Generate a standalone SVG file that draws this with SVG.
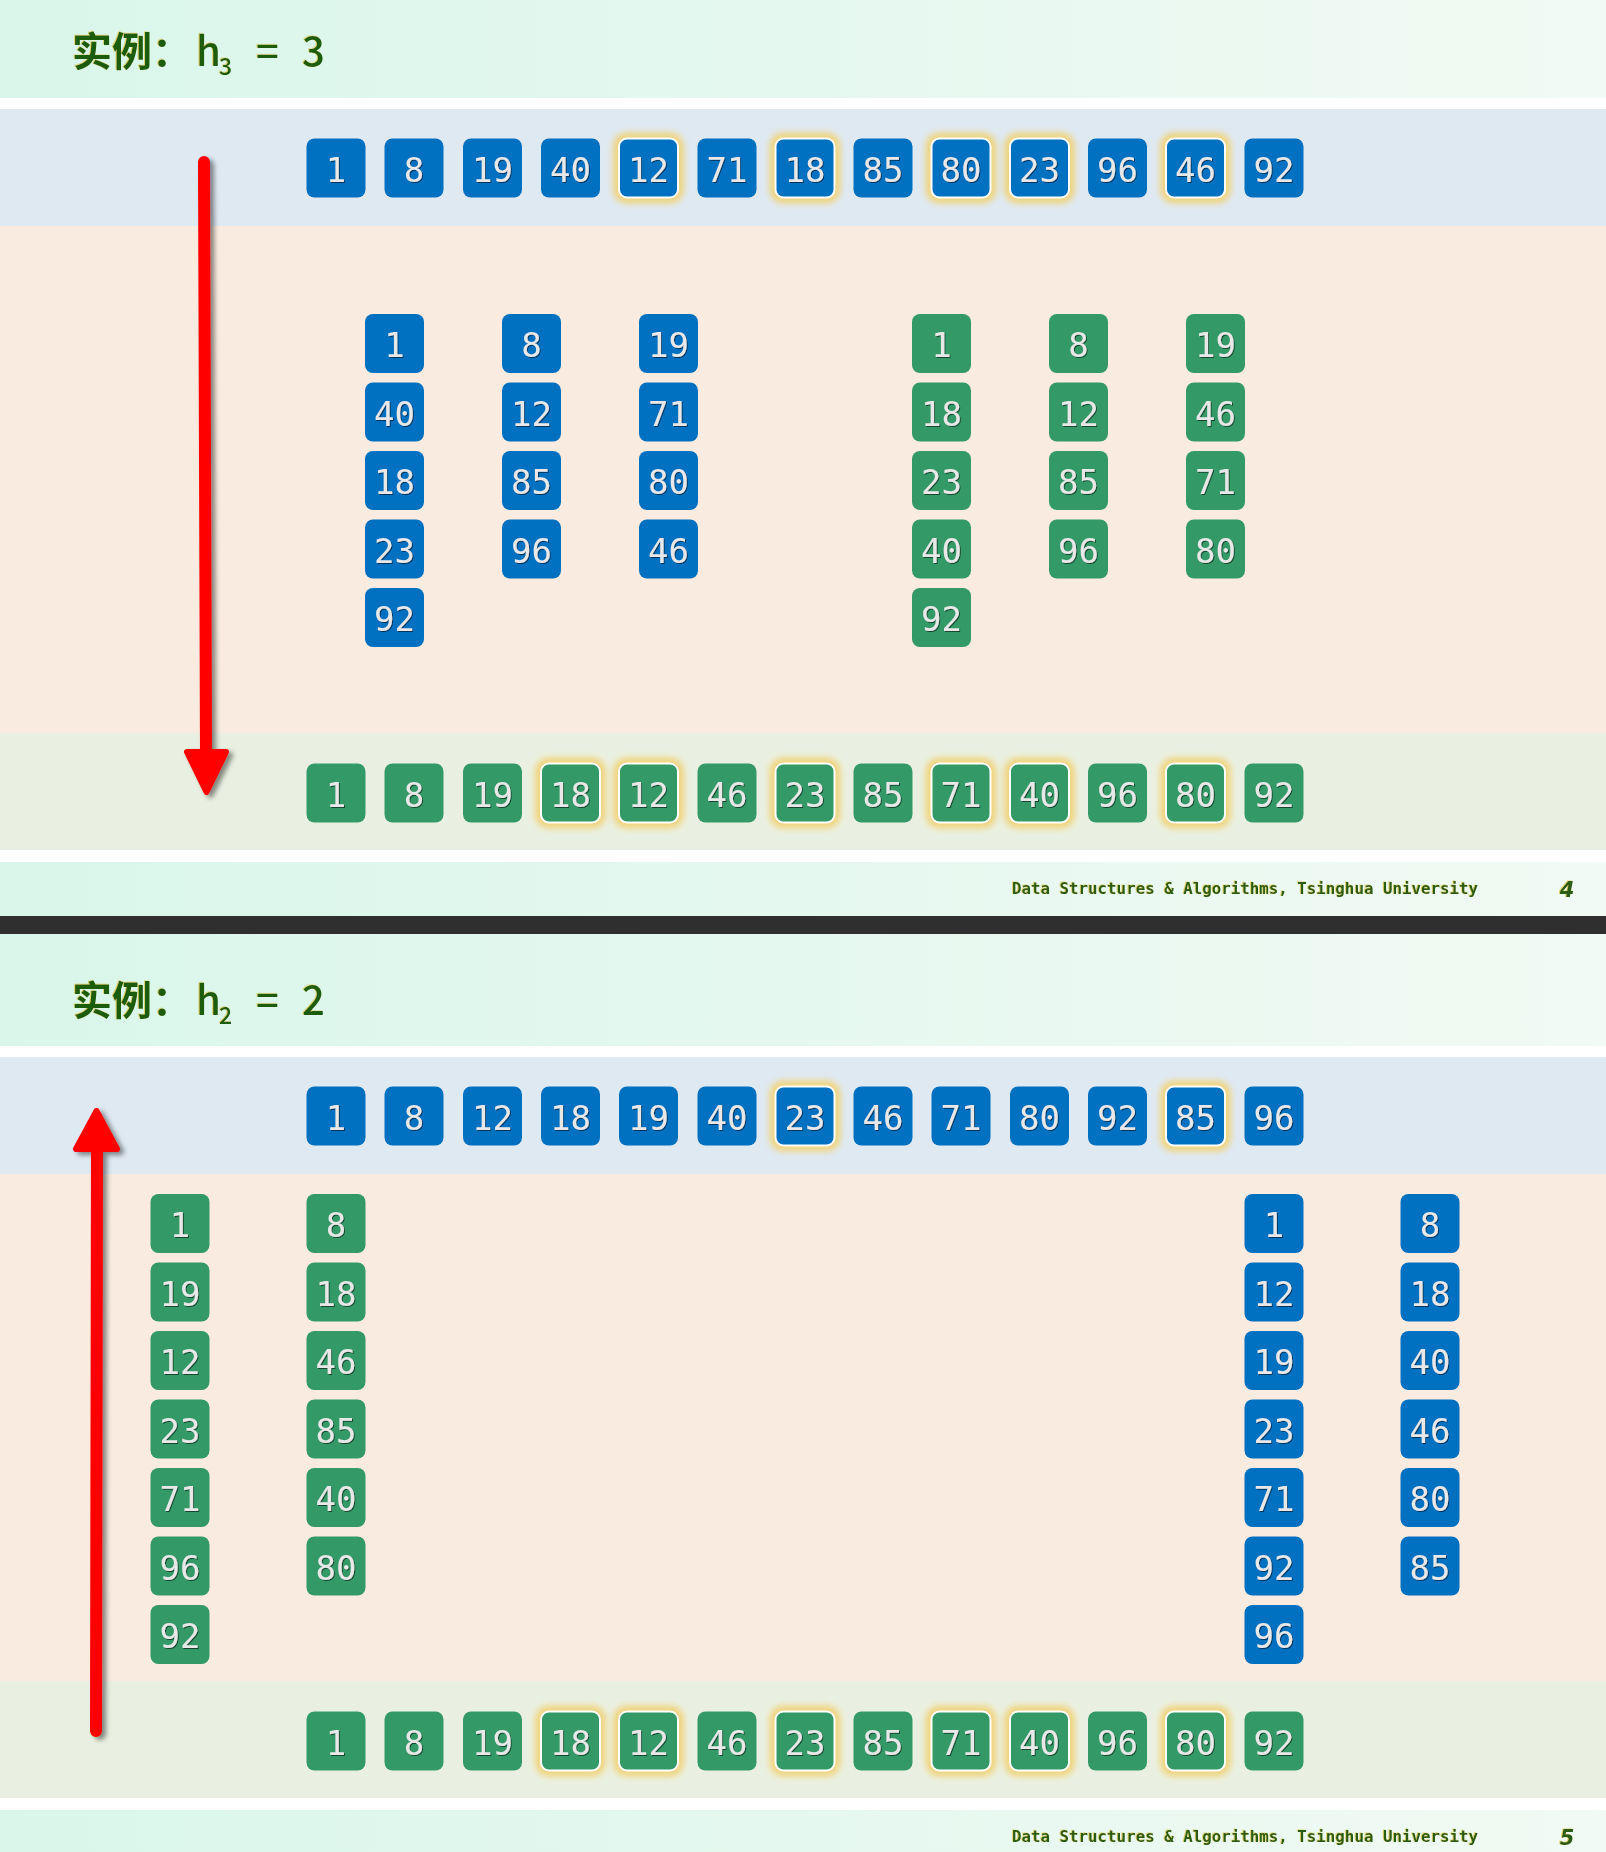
<svg xmlns="http://www.w3.org/2000/svg" width="1606" height="1852" viewBox="0 0 1606 1852">
<defs>
<linearGradient id="mint" x1="0" y1="0" x2="1" y2="0">
<stop offset="0" stop-color="#D9F6EA"/><stop offset="1" stop-color="#F1FAF4"/>
</linearGradient>
<filter id="glowf" x="-40%" y="-40%" width="180%" height="180%"><feGaussianBlur stdDeviation="3"/></filter>
<filter id="ts" x="-20%" y="-20%" width="140%" height="140%"><feDropShadow dx="1" dy="1" stdDeviation="0.7" flood-color="#000" flood-opacity="0.55"/></filter>
<filter id="ash" x="-50%" y="-10%" width="200%" height="120%"><feDropShadow dx="4" dy="3" stdDeviation="2.5" flood-color="#000" flood-opacity="0.45"/></filter>
<filter id="tsh" x="-10%" y="-10%" width="120%" height="130%"><feDropShadow dx="-1" dy="-0.5" stdDeviation="0.4" flood-color="#D8C84A" flood-opacity="0.8"/></filter>
<style>
.bb{fill:#0070C0}
.gg{fill:#339966}
.glow{fill:none;stroke:#F0D47E;stroke-width:12;filter:url(#glowf)}
.hi{stroke:#FFFFFF;stroke-width:2}
.n{font-family:"DejaVu Sans Mono","Liberation Mono",monospace;font-size:34px;fill:#E8E8E8;text-anchor:middle;filter:url(#ts)}
.title{font-family:"Noto Sans CJK SC","Noto Sans",sans-serif;font-size:40px;font-weight:500;fill:#1F5C0E;filter:url(#tsh)}
.foot{font-family:"DejaVu Sans Mono","Liberation Mono",monospace;font-size:15.8px;font-weight:bold;fill:#2A5C12;filter:url(#tsh)}
.pg{font-family:"DejaVu Sans","Liberation Sans",sans-serif;font-size:21px;font-weight:bold;font-style:italic;fill:#2A5C12;text-anchor:middle;filter:url(#tsh)}
.arr{stroke:#FF0000;fill:#FF0000;stroke-linecap:round;stroke-linejoin:round}
</style>
</defs>

<!-- backgrounds -->
<rect x="0" y="0" width="1606" height="1852" fill="#FFFFFF"/>
<rect x="0" y="0" width="1606" height="98" fill="url(#mint)"/>
<rect x="0" y="109" width="1606" height="117" fill="#DFE9F2"/>
<rect x="0" y="226" width="1606" height="507" fill="#F9EBDF"/>
<rect x="0" y="733" width="1606" height="117" fill="#EAF0E1"/>
<rect x="0" y="862" width="1606" height="54" fill="url(#mint)"/>
<rect x="0" y="916" width="1606" height="18" fill="#2F2F2F"/>
<rect x="0" y="934" width="1606" height="112" fill="url(#mint)"/>
<rect x="0" y="1057" width="1606" height="117" fill="#DFE9F2"/>
<rect x="0" y="1174" width="1606" height="507" fill="#F9EBDF"/>
<rect x="0" y="1681" width="1606" height="117" fill="#EAF0E1"/>
<rect x="0" y="1810" width="1606" height="42" fill="url(#mint)"/>

<!-- titles and footers -->
<text class="title" x="72" y="66"><tspan font-weight="bold">实例：</tspan><tspan x="196">h</tspan><tspan font-size="23" x="219" dy="9">3</tspan><tspan x="256" dy="-9">=</tspan><tspan x="302">3</tspan></text>
<text class="title" x="72" y="1015"><tspan font-weight="bold">实例：</tspan><tspan x="196">h</tspan><tspan font-size="23" x="219" dy="9">2</tspan><tspan x="256" dy="-9">=</tspan><tspan x="302">2</tspan></text>
<text class="foot" x="1012" y="894">Data Structures &amp; Algorithms, Tsinghua University</text>
<text class="pg" x="1567" y="897">4</text>
<text class="foot" x="1012" y="1842">Data Structures &amp; Algorithms, Tsinghua University</text>
<text class="pg" x="1567" y="1845">5</text>

<!-- connectors (arrows) -->
<g id="connectors">
<g filter="url(#ash)">
<line class="arr" x1="204" y1="162" x2="206" y2="752" stroke-width="12"/>
<polygon class="arr" points="187,752 226,752 206.5,792" stroke-width="6"/>
</g>
<g filter="url(#ash)">
<line class="arr" x1="96" y1="1731" x2="97" y2="1148" stroke-width="12"/>
<polygon class="arr" points="76,1149 117,1149 96.5,1111" stroke-width="6"/>
</g>
</g>

<!-- slide 1: top row -->
<g id="s1t0" transform="translate(306.5,138.5)"><rect class="bb" width="59" height="59" rx="8"/><text class="n" x="29.5" y="43">1</text></g>
<g id="s1t1" transform="translate(384.5,138.5)"><rect class="bb" width="59" height="59" rx="8"/><text class="n" x="29.5" y="43">8</text></g>
<g id="s1t2" transform="translate(463,138.5)"><rect class="bb" width="59" height="59" rx="8"/><text class="n" x="29.5" y="43">19</text></g>
<g id="s1t3" transform="translate(541,138.5)"><rect class="bb" width="59" height="59" rx="8"/><text class="n" x="29.5" y="43">40</text></g>
<g id="s1t4" transform="translate(619,138.5)"><rect class="glow" width="59" height="59" rx="8"/><rect class="bb hi" width="59" height="59" rx="8"/><text class="n" x="29.5" y="43">12</text></g>
<g id="s1t5" transform="translate(697.5,138.5)"><rect class="bb" width="59" height="59" rx="8"/><text class="n" x="29.5" y="43">71</text></g>
<g id="s1t6" transform="translate(775.5,138.5)"><rect class="glow" width="59" height="59" rx="8"/><rect class="bb hi" width="59" height="59" rx="8"/><text class="n" x="29.5" y="43">18</text></g>
<g id="s1t7" transform="translate(853.5,138.5)"><rect class="bb" width="59" height="59" rx="8"/><text class="n" x="29.5" y="43">85</text></g>
<g id="s1t8" transform="translate(931.5,138.5)"><rect class="glow" width="59" height="59" rx="8"/><rect class="bb hi" width="59" height="59" rx="8"/><text class="n" x="29.5" y="43">80</text></g>
<g id="s1t9" transform="translate(1010,138.5)"><rect class="glow" width="59" height="59" rx="8"/><rect class="bb hi" width="59" height="59" rx="8"/><text class="n" x="29.5" y="43">23</text></g>
<g id="s1t10" transform="translate(1088,138.5)"><rect class="bb" width="59" height="59" rx="8"/><text class="n" x="29.5" y="43">96</text></g>
<g id="s1t11" transform="translate(1166,138.5)"><rect class="glow" width="59" height="59" rx="8"/><rect class="bb hi" width="59" height="59" rx="8"/><text class="n" x="29.5" y="43">46</text></g>
<g id="s1t12" transform="translate(1244.5,138.5)"><rect class="bb" width="59" height="59" rx="8"/><text class="n" x="29.5" y="43">92</text></g>

<!-- slide 1: blue columns -->
<g id="s1b0_0" transform="translate(365,314)"><rect class="bb" width="59" height="59" rx="8"/><text class="n" x="29.5" y="43">1</text></g>
<g id="s1b0_1" transform="translate(365,382.5)"><rect class="bb" width="59" height="59" rx="8"/><text class="n" x="29.5" y="43">40</text></g>
<g id="s1b0_2" transform="translate(365,451)"><rect class="bb" width="59" height="59" rx="8"/><text class="n" x="29.5" y="43">18</text></g>
<g id="s1b0_3" transform="translate(365,519.5)"><rect class="bb" width="59" height="59" rx="8"/><text class="n" x="29.5" y="43">23</text></g>
<g id="s1b0_4" transform="translate(365,588)"><rect class="bb" width="59" height="59" rx="8"/><text class="n" x="29.5" y="43">92</text></g>
<g id="s1b1_0" transform="translate(502,314)"><rect class="bb" width="59" height="59" rx="8"/><text class="n" x="29.5" y="43">8</text></g>
<g id="s1b1_1" transform="translate(502,382.5)"><rect class="bb" width="59" height="59" rx="8"/><text class="n" x="29.5" y="43">12</text></g>
<g id="s1b1_2" transform="translate(502,451)"><rect class="bb" width="59" height="59" rx="8"/><text class="n" x="29.5" y="43">85</text></g>
<g id="s1b1_3" transform="translate(502,519.5)"><rect class="bb" width="59" height="59" rx="8"/><text class="n" x="29.5" y="43">96</text></g>
<g id="s1b2_0" transform="translate(639,314)"><rect class="bb" width="59" height="59" rx="8"/><text class="n" x="29.5" y="43">19</text></g>
<g id="s1b2_1" transform="translate(639,382.5)"><rect class="bb" width="59" height="59" rx="8"/><text class="n" x="29.5" y="43">71</text></g>
<g id="s1b2_2" transform="translate(639,451)"><rect class="bb" width="59" height="59" rx="8"/><text class="n" x="29.5" y="43">80</text></g>
<g id="s1b2_3" transform="translate(639,519.5)"><rect class="bb" width="59" height="59" rx="8"/><text class="n" x="29.5" y="43">46</text></g>

<!-- slide 1: green columns -->
<g id="s1g0_0" transform="translate(912,314)"><rect class="gg" width="59" height="59" rx="8"/><text class="n" x="29.5" y="43">1</text></g>
<g id="s1g0_1" transform="translate(912,382.5)"><rect class="gg" width="59" height="59" rx="8"/><text class="n" x="29.5" y="43">18</text></g>
<g id="s1g0_2" transform="translate(912,451)"><rect class="gg" width="59" height="59" rx="8"/><text class="n" x="29.5" y="43">23</text></g>
<g id="s1g0_3" transform="translate(912,519.5)"><rect class="gg" width="59" height="59" rx="8"/><text class="n" x="29.5" y="43">40</text></g>
<g id="s1g0_4" transform="translate(912,588)"><rect class="gg" width="59" height="59" rx="8"/><text class="n" x="29.5" y="43">92</text></g>
<g id="s1g1_0" transform="translate(1049,314)"><rect class="gg" width="59" height="59" rx="8"/><text class="n" x="29.5" y="43">8</text></g>
<g id="s1g1_1" transform="translate(1049,382.5)"><rect class="gg" width="59" height="59" rx="8"/><text class="n" x="29.5" y="43">12</text></g>
<g id="s1g1_2" transform="translate(1049,451)"><rect class="gg" width="59" height="59" rx="8"/><text class="n" x="29.5" y="43">85</text></g>
<g id="s1g1_3" transform="translate(1049,519.5)"><rect class="gg" width="59" height="59" rx="8"/><text class="n" x="29.5" y="43">96</text></g>
<g id="s1g2_0" transform="translate(1186,314)"><rect class="gg" width="59" height="59" rx="8"/><text class="n" x="29.5" y="43">19</text></g>
<g id="s1g2_1" transform="translate(1186,382.5)"><rect class="gg" width="59" height="59" rx="8"/><text class="n" x="29.5" y="43">46</text></g>
<g id="s1g2_2" transform="translate(1186,451)"><rect class="gg" width="59" height="59" rx="8"/><text class="n" x="29.5" y="43">71</text></g>
<g id="s1g2_3" transform="translate(1186,519.5)"><rect class="gg" width="59" height="59" rx="8"/><text class="n" x="29.5" y="43">80</text></g>

<!-- slide 1: bottom row -->
<g id="s1r0" transform="translate(306.5,763.5)"><rect class="gg" width="59" height="59" rx="8"/><text class="n" x="29.5" y="43">1</text></g>
<g id="s1r1" transform="translate(384.5,763.5)"><rect class="gg" width="59" height="59" rx="8"/><text class="n" x="29.5" y="43">8</text></g>
<g id="s1r2" transform="translate(463,763.5)"><rect class="gg" width="59" height="59" rx="8"/><text class="n" x="29.5" y="43">19</text></g>
<g id="s1r3" transform="translate(541,763.5)"><rect class="glow" width="59" height="59" rx="8"/><rect class="gg hi" width="59" height="59" rx="8"/><text class="n" x="29.5" y="43">18</text></g>
<g id="s1r4" transform="translate(619,763.5)"><rect class="glow" width="59" height="59" rx="8"/><rect class="gg hi" width="59" height="59" rx="8"/><text class="n" x="29.5" y="43">12</text></g>
<g id="s1r5" transform="translate(697.5,763.5)"><rect class="gg" width="59" height="59" rx="8"/><text class="n" x="29.5" y="43">46</text></g>
<g id="s1r6" transform="translate(775.5,763.5)"><rect class="glow" width="59" height="59" rx="8"/><rect class="gg hi" width="59" height="59" rx="8"/><text class="n" x="29.5" y="43">23</text></g>
<g id="s1r7" transform="translate(853.5,763.5)"><rect class="gg" width="59" height="59" rx="8"/><text class="n" x="29.5" y="43">85</text></g>
<g id="s1r8" transform="translate(931.5,763.5)"><rect class="glow" width="59" height="59" rx="8"/><rect class="gg hi" width="59" height="59" rx="8"/><text class="n" x="29.5" y="43">71</text></g>
<g id="s1r9" transform="translate(1010,763.5)"><rect class="glow" width="59" height="59" rx="8"/><rect class="gg hi" width="59" height="59" rx="8"/><text class="n" x="29.5" y="43">40</text></g>
<g id="s1r10" transform="translate(1088,763.5)"><rect class="gg" width="59" height="59" rx="8"/><text class="n" x="29.5" y="43">96</text></g>
<g id="s1r11" transform="translate(1166,763.5)"><rect class="glow" width="59" height="59" rx="8"/><rect class="gg hi" width="59" height="59" rx="8"/><text class="n" x="29.5" y="43">80</text></g>
<g id="s1r12" transform="translate(1244.5,763.5)"><rect class="gg" width="59" height="59" rx="8"/><text class="n" x="29.5" y="43">92</text></g>

<!-- slide 2: top row -->
<g id="s2t0" transform="translate(306.5,1086.5)"><rect class="bb" width="59" height="59" rx="8"/><text class="n" x="29.5" y="43">1</text></g>
<g id="s2t1" transform="translate(384.5,1086.5)"><rect class="bb" width="59" height="59" rx="8"/><text class="n" x="29.5" y="43">8</text></g>
<g id="s2t2" transform="translate(463,1086.5)"><rect class="bb" width="59" height="59" rx="8"/><text class="n" x="29.5" y="43">12</text></g>
<g id="s2t3" transform="translate(541,1086.5)"><rect class="bb" width="59" height="59" rx="8"/><text class="n" x="29.5" y="43">18</text></g>
<g id="s2t4" transform="translate(619,1086.5)"><rect class="bb" width="59" height="59" rx="8"/><text class="n" x="29.5" y="43">19</text></g>
<g id="s2t5" transform="translate(697.5,1086.5)"><rect class="bb" width="59" height="59" rx="8"/><text class="n" x="29.5" y="43">40</text></g>
<g id="s2t6" transform="translate(775.5,1086.5)"><rect class="glow" width="59" height="59" rx="8"/><rect class="bb hi" width="59" height="59" rx="8"/><text class="n" x="29.5" y="43">23</text></g>
<g id="s2t7" transform="translate(853.5,1086.5)"><rect class="bb" width="59" height="59" rx="8"/><text class="n" x="29.5" y="43">46</text></g>
<g id="s2t8" transform="translate(931.5,1086.5)"><rect class="bb" width="59" height="59" rx="8"/><text class="n" x="29.5" y="43">71</text></g>
<g id="s2t9" transform="translate(1010,1086.5)"><rect class="bb" width="59" height="59" rx="8"/><text class="n" x="29.5" y="43">80</text></g>
<g id="s2t10" transform="translate(1088,1086.5)"><rect class="bb" width="59" height="59" rx="8"/><text class="n" x="29.5" y="43">92</text></g>
<g id="s2t11" transform="translate(1166,1086.5)"><rect class="glow" width="59" height="59" rx="8"/><rect class="bb hi" width="59" height="59" rx="8"/><text class="n" x="29.5" y="43">85</text></g>
<g id="s2t12" transform="translate(1244.5,1086.5)"><rect class="bb" width="59" height="59" rx="8"/><text class="n" x="29.5" y="43">96</text></g>

<!-- slide 2: green columns -->
<g id="s2g0_0" transform="translate(150.5,1194)"><rect class="gg" width="59" height="59" rx="8"/><text class="n" x="29.5" y="43">1</text></g>
<g id="s2g0_1" transform="translate(150.5,1262.5)"><rect class="gg" width="59" height="59" rx="8"/><text class="n" x="29.5" y="43">19</text></g>
<g id="s2g0_2" transform="translate(150.5,1331)"><rect class="gg" width="59" height="59" rx="8"/><text class="n" x="29.5" y="43">12</text></g>
<g id="s2g0_3" transform="translate(150.5,1399.5)"><rect class="gg" width="59" height="59" rx="8"/><text class="n" x="29.5" y="43">23</text></g>
<g id="s2g0_4" transform="translate(150.5,1468)"><rect class="gg" width="59" height="59" rx="8"/><text class="n" x="29.5" y="43">71</text></g>
<g id="s2g0_5" transform="translate(150.5,1536.5)"><rect class="gg" width="59" height="59" rx="8"/><text class="n" x="29.5" y="43">96</text></g>
<g id="s2g0_6" transform="translate(150.5,1605)"><rect class="gg" width="59" height="59" rx="8"/><text class="n" x="29.5" y="43">92</text></g>
<g id="s2g1_0" transform="translate(306.5,1194)"><rect class="gg" width="59" height="59" rx="8"/><text class="n" x="29.5" y="43">8</text></g>
<g id="s2g1_1" transform="translate(306.5,1262.5)"><rect class="gg" width="59" height="59" rx="8"/><text class="n" x="29.5" y="43">18</text></g>
<g id="s2g1_2" transform="translate(306.5,1331)"><rect class="gg" width="59" height="59" rx="8"/><text class="n" x="29.5" y="43">46</text></g>
<g id="s2g1_3" transform="translate(306.5,1399.5)"><rect class="gg" width="59" height="59" rx="8"/><text class="n" x="29.5" y="43">85</text></g>
<g id="s2g1_4" transform="translate(306.5,1468)"><rect class="gg" width="59" height="59" rx="8"/><text class="n" x="29.5" y="43">40</text></g>
<g id="s2g1_5" transform="translate(306.5,1536.5)"><rect class="gg" width="59" height="59" rx="8"/><text class="n" x="29.5" y="43">80</text></g>

<!-- slide 2: blue columns -->
<g id="s2b0_0" transform="translate(1244.5,1194)"><rect class="bb" width="59" height="59" rx="8"/><text class="n" x="29.5" y="43">1</text></g>
<g id="s2b0_1" transform="translate(1244.5,1262.5)"><rect class="bb" width="59" height="59" rx="8"/><text class="n" x="29.5" y="43">12</text></g>
<g id="s2b0_2" transform="translate(1244.5,1331)"><rect class="bb" width="59" height="59" rx="8"/><text class="n" x="29.5" y="43">19</text></g>
<g id="s2b0_3" transform="translate(1244.5,1399.5)"><rect class="bb" width="59" height="59" rx="8"/><text class="n" x="29.5" y="43">23</text></g>
<g id="s2b0_4" transform="translate(1244.5,1468)"><rect class="bb" width="59" height="59" rx="8"/><text class="n" x="29.5" y="43">71</text></g>
<g id="s2b0_5" transform="translate(1244.5,1536.5)"><rect class="bb" width="59" height="59" rx="8"/><text class="n" x="29.5" y="43">92</text></g>
<g id="s2b0_6" transform="translate(1244.5,1605)"><rect class="bb" width="59" height="59" rx="8"/><text class="n" x="29.5" y="43">96</text></g>
<g id="s2b1_0" transform="translate(1400.5,1194)"><rect class="bb" width="59" height="59" rx="8"/><text class="n" x="29.5" y="43">8</text></g>
<g id="s2b1_1" transform="translate(1400.5,1262.5)"><rect class="bb" width="59" height="59" rx="8"/><text class="n" x="29.5" y="43">18</text></g>
<g id="s2b1_2" transform="translate(1400.5,1331)"><rect class="bb" width="59" height="59" rx="8"/><text class="n" x="29.5" y="43">40</text></g>
<g id="s2b1_3" transform="translate(1400.5,1399.5)"><rect class="bb" width="59" height="59" rx="8"/><text class="n" x="29.5" y="43">46</text></g>
<g id="s2b1_4" transform="translate(1400.5,1468)"><rect class="bb" width="59" height="59" rx="8"/><text class="n" x="29.5" y="43">80</text></g>
<g id="s2b1_5" transform="translate(1400.5,1536.5)"><rect class="bb" width="59" height="59" rx="8"/><text class="n" x="29.5" y="43">85</text></g>

<!-- slide 2: bottom row -->
<g id="s2r0" transform="translate(306.5,1711.5)"><rect class="gg" width="59" height="59" rx="8"/><text class="n" x="29.5" y="43">1</text></g>
<g id="s2r1" transform="translate(384.5,1711.5)"><rect class="gg" width="59" height="59" rx="8"/><text class="n" x="29.5" y="43">8</text></g>
<g id="s2r2" transform="translate(463,1711.5)"><rect class="gg" width="59" height="59" rx="8"/><text class="n" x="29.5" y="43">19</text></g>
<g id="s2r3" transform="translate(541,1711.5)"><rect class="glow" width="59" height="59" rx="8"/><rect class="gg hi" width="59" height="59" rx="8"/><text class="n" x="29.5" y="43">18</text></g>
<g id="s2r4" transform="translate(619,1711.5)"><rect class="glow" width="59" height="59" rx="8"/><rect class="gg hi" width="59" height="59" rx="8"/><text class="n" x="29.5" y="43">12</text></g>
<g id="s2r5" transform="translate(697.5,1711.5)"><rect class="gg" width="59" height="59" rx="8"/><text class="n" x="29.5" y="43">46</text></g>
<g id="s2r6" transform="translate(775.5,1711.5)"><rect class="glow" width="59" height="59" rx="8"/><rect class="gg hi" width="59" height="59" rx="8"/><text class="n" x="29.5" y="43">23</text></g>
<g id="s2r7" transform="translate(853.5,1711.5)"><rect class="gg" width="59" height="59" rx="8"/><text class="n" x="29.5" y="43">85</text></g>
<g id="s2r8" transform="translate(931.5,1711.5)"><rect class="glow" width="59" height="59" rx="8"/><rect class="gg hi" width="59" height="59" rx="8"/><text class="n" x="29.5" y="43">71</text></g>
<g id="s2r9" transform="translate(1010,1711.5)"><rect class="glow" width="59" height="59" rx="8"/><rect class="gg hi" width="59" height="59" rx="8"/><text class="n" x="29.5" y="43">40</text></g>
<g id="s2r10" transform="translate(1088,1711.5)"><rect class="gg" width="59" height="59" rx="8"/><text class="n" x="29.5" y="43">96</text></g>
<g id="s2r11" transform="translate(1166,1711.5)"><rect class="glow" width="59" height="59" rx="8"/><rect class="gg hi" width="59" height="59" rx="8"/><text class="n" x="29.5" y="43">80</text></g>
<g id="s2r12" transform="translate(1244.5,1711.5)"><rect class="gg" width="59" height="59" rx="8"/><text class="n" x="29.5" y="43">92</text></g>
</svg>
